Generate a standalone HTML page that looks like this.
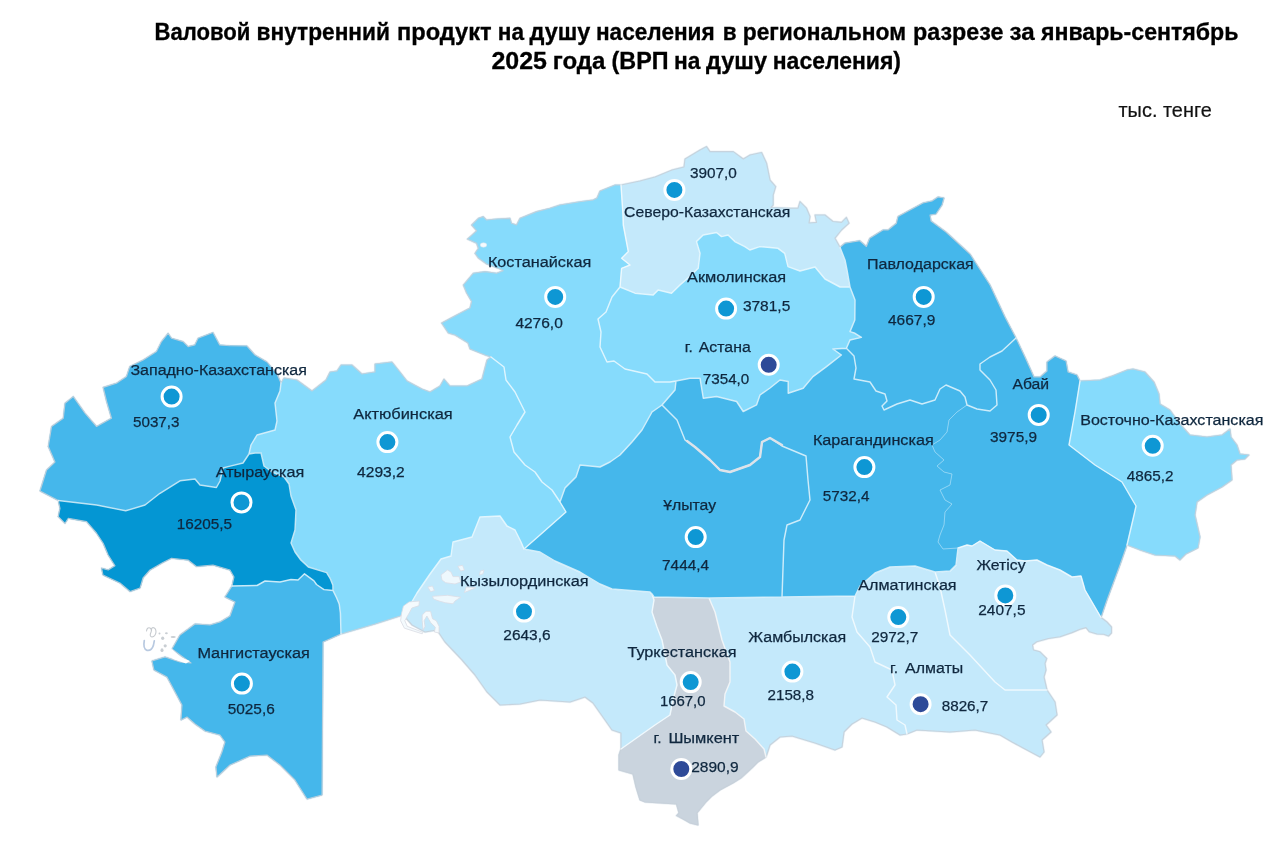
<!DOCTYPE html>
<html lang="ru"><head><meta charset="utf-8"><title>ВРП на душу населения</title>
<style>
html,body{margin:0;padding:0;background:#fff}
body{width:1280px;height:842px;overflow:hidden;font-family:"Liberation Sans",sans-serif}
svg{display:block;will-change:transform}
.t{font-family:"Liberation Sans",sans-serif;font-weight:bold;font-size:23px;fill:#000;stroke:#000;stroke-width:0.3px}
.u{font-family:"Liberation Sans",sans-serif;font-size:20px;fill:#111;stroke:#111;stroke-width:0.2px}
.l{font-family:"Liberation Sans",sans-serif;font-size:15.5px;fill:#0f273e;stroke:#0f273e;stroke-width:0.25px}
.r{stroke:#e9f7fe;stroke-width:1.3;stroke-linejoin:round}
</style></head><body>
<svg width="1280" height="842" viewBox="0 0 1280 842">
<rect width="1280" height="842" fill="#fff"/>
<text class="t" x="154.6" y="40" textLength="95.8" lengthAdjust="spacingAndGlyphs">Валовой</text>
<text class="t" x="256.5" y="40" textLength="133.5" lengthAdjust="spacingAndGlyphs">внутренний</text>
<text class="t" x="397" y="40" textLength="94.6" lengthAdjust="spacingAndGlyphs">продукт</text>
<text class="t" x="497.75" y="40" textLength="26.25" lengthAdjust="spacingAndGlyphs">на</text>
<text class="t" x="529.6" y="40" textLength="60.8" lengthAdjust="spacingAndGlyphs">душу</text>
<text class="t" x="595.9" y="40" textLength="118.85" lengthAdjust="spacingAndGlyphs">населения</text>
<text class="t" x="722.75" y="40" textLength="13.85" lengthAdjust="spacingAndGlyphs">в</text>
<text class="t" x="742.75" y="40" textLength="163.25" lengthAdjust="spacingAndGlyphs">региональном</text>
<text class="t" x="913" y="40" textLength="90.5" lengthAdjust="spacingAndGlyphs">разрезе</text>
<text class="t" x="1009.6" y="40" textLength="25.15" lengthAdjust="spacingAndGlyphs">за</text>
<text class="t" x="1040.9" y="40" textLength="197.6" lengthAdjust="spacingAndGlyphs">январь-сентябрь</text>
<text class="t" x="491.5" y="69.4" textLength="55.5" lengthAdjust="spacingAndGlyphs">2025</text>
<text class="t" x="552.75" y="69.4" textLength="52.65" lengthAdjust="spacingAndGlyphs">года</text>
<text class="t" x="611.5" y="69.4" textLength="57" lengthAdjust="spacingAndGlyphs">(ВРП</text>
<text class="t" x="674" y="69.4" textLength="26.4" lengthAdjust="spacingAndGlyphs">на</text>
<text class="t" x="705.9" y="69.4" textLength="61.1" lengthAdjust="spacingAndGlyphs">душу</text>
<text class="t" x="772.75" y="69.4" textLength="128.25" lengthAdjust="spacingAndGlyphs">населения)</text>
<text class="u" x="1118.5" y="117.2" textLength="93.3" lengthAdjust="spacingAndGlyphs">тыс. тенге</text>

<path d="M491,357 L485,355 L470,349 L468,343 L455,335 L448.3,333 L441.6,323 L456.6,315 L470,308 L471.6,301.5 L466.6,293 L463.3,285 L473.3,273.2 L485,271.6 L496.6,273.2 L503.2,270.7 L500,269 L486.6,264 L478.3,258 L475,253.3 L478.3,248.3 L476.6,243.3 L467.4,239.1 L476.6,230.8 L471.6,225 L478.3,218.3 L483.3,216.6 L486.6,220 L496.6,219 L510,218.3 L511.5,223.3 L516.5,225 L520,218.3 L536.5,211.6 L549.8,208.3 L559.8,205 L579.8,201.7 L593,200 L597,198 L600,191 L615,185 L621,185 L640,181 L655,177 L672,170 L684,167 L685,159 L700,150 L706.6,146.6 L710,151.6 L733.3,151.6 L743.3,159 L750,155 L761.6,152.5 L766.6,163.3 L770,180 L775.7,186.6 L773.2,195 L773.2,205 L771,207.5 L790,208.2 L798,208.2 L800,201.6 L806.5,208.2 L810,216.5 L809,223 L816.5,222.4 L815,215 L825,215 L833,221.5 L841.5,222.4 L846.4,217.4 L849,223.2 L841.5,230 L835,238.2 L840,247.3 L844.8,243.2 L859.8,240.7 L866.4,246.5 L869.7,238.2 L883,230 L888,230 L896.4,223.2 L898,216.5 L910,210 L923,203 L932,201 L938,197 L944,198 L942,205 L936,214 L930,215 L931,221 L946,232 L970,254 L990,285 L1005,317 L1016,338 L1025,357 L1034,377 L1040,377 L1047,371 L1047,362 L1055,356 L1066,361 L1068,372 L1077,375 L1080,381 L1100,380 L1112,376 L1127,370 L1133,369 L1145,372 L1154,382 L1159,394 L1160,404 L1170,410 L1180,424 L1190,435 L1207,437 L1222,435 L1230,429 L1231,437 L1237,445 L1240,454 L1249,455 L1245,459 L1237,460 L1231,465 L1232,480 L1222,487 L1207,495 L1197,502 L1195,515 L1200,537 L1198,548 L1186,554 L1180,560 L1175,556 L1155,555 L1140,550 L1127,545 L1120,565 L1107,600 L1101,617.5 L1107,622 L1111.5,627 L1111.5,633 L1108.6,636 L1103.6,634.3 L1097,634 L1089.4,631.8 L1086,627.6 L1080,629.3 L1072,632.6 L1060,636.8 L1048.4,638.5 L1036.7,641.8 L1032.5,645 L1033.4,650 L1040,651.8 L1046.7,658.5 L1045,663.5 L1046,670 L1044,677 L1047,690 L1055,702 L1057,715 L1046,725 L1051,732 L1042,740 L1044,752 L1040,757 L1025,749 L1012,742 L1000,735 L975,730 L950,732 L917,730 L907,734 L900,735 L887,727 L875,722 L862,718 L852,724 L844,732 L842,747 L835,750 L815,743 L792,736 L780,737 L770,745 L766,757 L758,762 L753,767 L741,778 L733,783 L720,790 L712,796 L706,802 L697,813 L698,825 L690,823 L683,819 L676.5,815.6 L679,813 L676.5,804 L645,802 L640,800 L636,787 L633,774 L619,770 L619,755 L621,749 L621,733 L612,730 L605,720 L593,703 L585,697 L570,702 L540,700 L520,704 L500,705 L487,692 L475,675 L462,660 L445,642 L437,630 L425,632 L412,625 L405,617 L406,612 L400,616 L375,624 L341,634 L323,642 L322,795 L307,799 L295,780 L280,765 L267,755 L250,756 L230,765 L217,777 L216,767 L222,752 L225,742 L220,735 L205,731 L195,724 L187,717 L181,720 L182,705 L174,690 L167,677 L154,670 L152,661 L165,657 L180,662 L191,663 L180,655 L172,649 L180,635 L195,624 L210,625 L220,622 L230,616 L235,602 L225,597 L232,586 L234,577 L230,570 L213,565 L196.4,566.5 L188,560 L171.5,558.2 L163,562.4 L150,570 L143,578 L140,588 L130,591.5 L120,583 L103,575 L101.6,568.2 L108.2,570 L115,565.7 L108.2,555 L103.2,543.2 L96.6,533.2 L86.6,521.6 L68.3,518.3 L65,523.3 L58.3,516.6 L60,508.3 L58.3,500.5 L40,491 L46.6,470 L55,462 L48.3,446.5 L51.6,426.5 L63.3,418.2 L65,403.2 L73.3,396.6 L85,413.2 L96.6,426.5 L111.5,418.2 L106.6,401.5 L103.2,387.4 L116.5,383.2 L126.5,376.6 L129.8,366.6 L143.2,360 L156.5,351.6 L161.5,341.6 L168.1,333.3 L171.5,338.3 L183.1,341.6 L188.1,346.6 L194.8,345 L198.1,338.3 L213,332.5 L219.7,345 L229.7,345.8 L247,346 L255,355 L267,362 L277,374 L281,383 L284,378 L297,380 L312,391 L326,380 L330,372 L337,371 L341,365 L352,365 L362,374 L375,372 L375,364 L392,362 L400,372 L407,381 L422,389 L430,392 L440,386 L444,379 L450,386 L467,386 L482,379 L487,360Z" fill="none" stroke="#edf2f6" stroke-width="2.4" stroke-linejoin="round"/>
<path d="M491,357 L485,355 L470,349 L468,343 L455,335 L448.3,333 L441.6,323 L456.6,315 L470,308 L471.6,301.5 L466.6,293 L463.3,285 L473.3,273.2 L485,271.6 L496.6,273.2 L503.2,270.7 L500,269 L486.6,264 L478.3,258 L475,253.3 L478.3,248.3 L476.6,243.3 L467.4,239.1 L476.6,230.8 L471.6,225 L478.3,218.3 L483.3,216.6 L486.6,220 L496.6,219 L510,218.3 L511.5,223.3 L516.5,225 L520,218.3 L536.5,211.6 L549.8,208.3 L559.8,205 L579.8,201.7 L593,200 L597,198 L600,191 L615,185 L621,185 L623,215 L623.3,225 L628.3,251.6 L621.6,258.3 L630,265 L621.6,268.3 L620,287 L612,297 L606,312 L598,319 L601,332 L600,347 L607,362 L614,361 L625,369 L647,374 L655,382 L670,382 L676,381 L675,390 L662,405 L652,412 L642,430 L632,442 L620,455 L610,462 L600,467 L580,465 L576,477 L565,488 L560,502 L552,490 L542,482 L535,472 L525,465 L514,452 L510,437 L517,425 L525,412 L515,392 L506,380 L504,367Z" fill="#86DBFC" stroke="#86DBFC" stroke-width="0.7" stroke-linejoin="round"/>
<path d="M621,185 L640,181 L655,177 L672,170 L684,167 L685,159 L700,150 L706.6,146.6 L710,151.6 L733.3,151.6 L743.3,159 L750,155 L761.6,152.5 L766.6,163.3 L770,180 L775.7,186.6 L773.2,195 L773.2,205 L771,207.5 L790,208.2 L798,208.2 L800,201.6 L806.5,208.2 L810,216.5 L809,223 L816.5,222.4 L815,215 L825,215 L833,221.5 L841.5,222.4 L846.4,217.4 L849,223.2 L841.5,230 L835,238.2 L840,247.3 L845,260 L847,270 L850,287 L840,287 L825,279 L815,267 L800,271 L788,266.6 L784.7,253.3 L778,248.3 L759.8,246.6 L749.8,250 L744.8,246.6 L734.8,241.6 L728,235 L721.5,236.6 L716.5,232.5 L703.2,235 L696.5,241.6 L700,253.3 L698.2,268.3 L688,278 L680,285 L671.5,293.2 L658.2,290 L653.2,295 L635,293.2 L620,287 L621.6,268.3 L630,265 L621.6,258.3 L628.3,251.6 L623.3,225 L623,215Z" fill="#C4E9FB" stroke="#C4E9FB" stroke-width="0.7" stroke-linejoin="round"/>
<path d="M620,287 L635,293.2 L653.2,295 L658.2,290 L671.5,293.2 L680,285 L688,278 L698.2,268.3 L700,253.3 L696.5,241.6 L703.2,235 L716.5,232.5 L721.5,236.6 L728,235 L734.8,241.6 L744.8,246.6 L749.8,250 L759.8,246.6 L778,248.3 L784.7,253.3 L788,266.6 L800,271 L815,267 L825,279 L840,287 L850,287 L855,300 L854.8,320 L850,331.6 L855,333.3 L861.4,337.4 L850,340 L846.4,348.3 L833,349 L841.4,355 L826.5,366.6 L813,376.6 L803.2,388.2 L788.2,393.2 L788.2,381.5 L780,380 L770,388 L760,395 L756.6,404.8 L743.2,411.5 L736.6,401.5 L716.6,396.5 L703.3,398.2 L700,378.2 L690,378.2 L676,381 L670,382 L655,382 L647,374 L625,369 L614,361 L607,362 L600,347 L601,332 L598,319 L606,312 L612,297Z" fill="#86DBFC" stroke="#86DBFC" stroke-width="0.7" stroke-linejoin="round"/>
<path d="M840,247.3 L844.8,243.2 L859.8,240.7 L866.4,246.5 L869.7,238.2 L883,230 L888,230 L896.4,223.2 L898,216.5 L910,210 L923,203 L932,201 L938,197 L944,198 L942,205 L936,214 L930,215 L931,221 L946,232 L970,254 L990,285 L1005,317 L1016,338 L1002,351 L990,357 L980,364 L980,370 L990,380 L996,390 L997,405 L990,411 L977,409 L967,405 L965,397 L960,391 L946,385 L940,389 L935,400 L922,404 L910,400 L897,404 L884,410 L882,406 L887,401 L885,394 L876,391 L870,382 L854,379 L856,368 L854,356 L846.4,348.3 L850,340 L861.4,337.4 L855,333.3 L850,331.6 L854.8,320 L855,300 L850,287 L847,270 L845,260Z" fill="#45B7EB" stroke="#45B7EB" stroke-width="0.7" stroke-linejoin="round"/>
<path d="M1016,338 L1025,357 L1034,377 L1040,377 L1047,371 L1047,362 L1055,356 L1066,361 L1068,372 L1077,375 L1080,381 L1075,412 L1069,445 L1095,465 L1122,482 L1136,506 L1134,515 L1127,545 L1120,565 L1107,600 L1101,617.5 L1092,602 L1085,590 L1081,576 L1072,577 L1060,570 L1047,565 L1037,560 L1025,561 L1017,560 L1007,551 L995,550 L980,541 L972,546 L967,545 L958,548 L943,549 L938,542 L940,535 L944,525 L945,512 L952,504 L945,500 L940,490 L950,485 L952,474 L944,472 L937,466 L944,460 L935,452 L932,445 L940,440 L947,432 L949,420 L957,412 L967,405 L977,409 L990,411 L997,405 L996,390 L990,380 L980,370 L980,364 L990,357 L1002,351Z" fill="#45B7EB" stroke="#45B7EB" stroke-width="0.7" stroke-linejoin="round"/>
<path d="M1080,381 L1100,380 L1112,376 L1127,370 L1133,369 L1145,372 L1154,382 L1159,394 L1160,404 L1170,410 L1180,424 L1190,435 L1207,437 L1222,435 L1230,429 L1231,437 L1237,445 L1240,454 L1249,455 L1245,459 L1237,460 L1231,465 L1232,480 L1222,487 L1207,495 L1197,502 L1195,515 L1200,537 L1198,548 L1186,554 L1180,560 L1175,556 L1155,555 L1140,550 L1127,545 L1134,515 L1136,506 L1122,482 L1095,465 L1069,445 L1075,412Z" fill="#86DBFC" stroke="#86DBFC" stroke-width="0.7" stroke-linejoin="round"/>
<path d="M958,548 L967,545 L972,546 L980,541 L995,550 L1007,551 L1017,560 L1025,561 L1037,560 L1047,565 L1060,570 L1072,577 L1081,576 L1085,590 L1092,602 L1101,617.5 L1107,622 L1111.5,627 L1111.5,633 L1108.6,636 L1103.6,634.3 L1097,634 L1089.4,631.8 L1086,627.6 L1080,629.3 L1072,632.6 L1060,636.8 L1048.4,638.5 L1036.7,641.8 L1032.5,645 L1033.4,650 L1040,651.8 L1046.7,658.5 L1045,663.5 L1046,670 L1044,677 L1047,690 L1005,690 L995,682 L970,655 L950,635 L945,610 L940,587 L935,572 L950,571 L956,565Z" fill="#C4E9FB" stroke="#C4E9FB" stroke-width="0.7" stroke-linejoin="round"/>
<path d="M855,596 L860,586 L875,573 L890,567 L915,566 L935,572 L940,587 L945,610 L950,635 L970,655 L995,682 L1005,690 L1047,690 L1055,702 L1057,715 L1046,725 L1051,732 L1042,740 L1044,752 L1040,757 L1025,749 L1012,742 L1000,735 L975,730 L950,732 L917,730 L907,734 L905,725 L897,720 L896,705 L887,697 L895,685 L892,670 L875,662 L870,647 L857,632 L852,617Z" fill="#C4E9FB" stroke="#C4E9FB" stroke-width="0.7" stroke-linejoin="round"/>
<path d="M709,598 L782,597 L855,596 L852,617 L857,632 L870,647 L875,662 L892,670 L895,685 L887,697 L896,705 L897,720 L905,725 L907,734 L900,735 L887,727 L875,722 L862,718 L852,724 L844,732 L842,747 L835,750 L815,743 L792,736 L780,737 L770,745 L766,757 L764,749 L755,739 L746,731 L744,719 L735,712 L724,706 L725,694 L730,682 L730,662 L722,640 L715,612Z" fill="#C4E9FB" stroke="#C4E9FB" stroke-width="0.7" stroke-linejoin="round"/>
<path d="M652,594 L654,597 L709,598 L715,612 L722,640 L730,662 L730,682 L725,694 L724,706 L735,712 L744,719 L746,731 L755,739 L764,749 L766,757 L758,762 L753,767 L741,778 L733,783 L720,790 L712,796 L706,802 L697,813 L698,825 L690,823 L683,819 L676.5,815.6 L679,813 L676.5,804 L645,802 L640,800 L636,787 L633,774 L619,770 L619,755 L621,749 L655,725 L670,715 L673,700 L677,685 L675,675 L667,665 L662,640 L657,627 L652,612 L654,600Z" fill="#CAD4DE" stroke="#CAD4DE" stroke-width="0.7" stroke-linejoin="round"/>
<path d="M524,549 L540,552 L555,561 L580,572 L600,584 L612,589 L650,592 L652,594 L654,600 L652,612 L657,627 L662,640 L667,665 L675,675 L677,685 L673,700 L670,715 L655,725 L621,749 L621,733 L612,730 L605,720 L593,703 L585,697 L570,702 L540,700 L520,704 L500,705 L487,692 L475,675 L462,660 L445,642 L437,630 L425,632 L412,625 L405,617 L406,612 L417,593 L430,574 L441,559 L451,556 L453,542 L472,537 L480,517 L500,516 L507,526 L515,530 L521,542Z" fill="#C4E9FB" stroke="#C4E9FB" stroke-width="0.7" stroke-linejoin="round"/>
<path d="M560,502 L565,488 L576,477 L580,465 L600,467 L610,462 L620,455 L632,442 L642,430 L652,412 L662,405 L677,420 L685,440 L695,447 L710,460 L720,470 L730,472 L750,465 L760,457 L762,442 L770,438 L782,446 L806,456 L808,480 L810,500 L800,520 L787,525 L784,540 L782,597 L709,598 L654,597 L652,594 L650,592 L612,589 L600,584 L580,572 L555,561 L540,552 L524,549 L540,535 L566,512Z" fill="#45B7EB" stroke="#45B7EB" stroke-width="0.7" stroke-linejoin="round"/>
<path d="M662,405 L675,390 L676,381 L690,378.2 L700,378.2 L703.3,398.2 L716.6,396.5 L736.6,401.5 L743.2,411.5 L756.6,404.8 L760,395 L770,388 L780,380 L788.2,381.5 L788.2,393.2 L803.2,388.2 L813,376.6 L826.5,366.6 L841.4,355 L833,349 L846.4,348.3 L854,356 L856,368 L854,379 L870,382 L876,391 L885,394 L887,401 L882,406 L884,410 L897,404 L910,400 L922,404 L935,400 L940,389 L946,385 L960,391 L965,397 L967,405 L957,412 L949,420 L947,432 L940,440 L932,445 L935,452 L944,460 L937,466 L944,472 L952,474 L950,485 L940,490 L945,500 L952,504 L945,512 L944,525 L940,535 L938,542 L943,549 L958,548 L956,565 L950,571 L935,572 L915,566 L890,567 L875,573 L860,586 L855,596 L782,597 L784,540 L787,525 L800,520 L810,500 L808,480 L806,456 L782,446 L770,438 L762,442 L760,457 L750,465 L730,472 L720,470 L710,460 L695,447 L685,440 L677,420Z" fill="#45B7EB" stroke="#45B7EB" stroke-width="0.7" stroke-linejoin="round"/>
<path d="M281,383 L284,378 L297,380 L312,391 L326,380 L330,372 L337,371 L341,365 L352,365 L362,374 L375,372 L375,364 L392,362 L400,372 L407,381 L422,389 L430,392 L440,386 L444,379 L450,386 L467,386 L482,379 L487,360 L491,357 L504,367 L506,380 L515,392 L525,412 L517,425 L510,437 L514,452 L525,465 L535,472 L542,482 L552,490 L560,502 L566,512 L540,535 L524,549 L521,542 L515,530 L507,526 L500,516 L480,517 L472,537 L453,542 L451,556 L441,559 L430,574 L417,593 L406,612 L400,616 L375,624 L341,634 L340.4,613 L339.2,604 L336.6,597.7 L333,590.5 L332.9,585.2 L330.4,579 L326.6,572.6 L308.3,567 L300.8,560 L295,552 L291,543 L295,530 L296,510 L291,496 L289,484 L284,477 L272,472 L264,466 L261,453 L255,453 L249,454 L251,445 L257,435 L275,430 L277,421 L275,403 L280,391Z" fill="#86DBFC" stroke="#86DBFC" stroke-width="0.7" stroke-linejoin="round"/>
<path d="M58.3,500.5 L40,491 L46.6,470 L55,462 L48.3,446.5 L51.6,426.5 L63.3,418.2 L65,403.2 L73.3,396.6 L85,413.2 L96.6,426.5 L111.5,418.2 L106.6,401.5 L103.2,387.4 L116.5,383.2 L126.5,376.6 L129.8,366.6 L143.2,360 L156.5,351.6 L161.5,341.6 L168.1,333.3 L171.5,338.3 L183.1,341.6 L188.1,346.6 L194.8,345 L198.1,338.3 L213,332.5 L219.7,345 L229.7,345.8 L247,346 L255,355 L267,362 L277,374 L281,383 L280,391 L275,403 L277,421 L275,430 L257,435 L251,445 L249,454 L243,463 L228,466.6 L223,468 L220,481 L216.4,487.5 L200,485 L195,479 L180,480.8 L160,493.3 L145,505 L125.7,510.8 L96.6,505Z" fill="#45B7EB" stroke="#45B7EB" stroke-width="0.7" stroke-linejoin="round"/>
<path d="M58.3,500.5 L96.6,505 L125.7,510.8 L145,505 L160,493.3 L180,480.8 L195,479 L200,485 L216.4,487.5 L220,481 L223,468 L228,466.6 L243,463 L249,454 L255,453 L261,453 L264,466 L272,472 L284,477 L289,484 L291,496 L296,510 L295,530 L291,543 L295,552 L300.8,560 L308.3,567 L326.6,572.6 L330.4,579 L332.9,585.2 L333,590.5 L324,589.6 L316.5,584.5 L314,580.8 L304.5,573.8 L298,580 L291,579.5 L280,582 L265,581 L257,585.5 L232,586 L234,577 L230,570 L213,565 L196.4,566.5 L188,560 L171.5,558.2 L163,562.4 L150,570 L143,578 L140,588 L130,591.5 L120,583 L103,575 L101.6,568.2 L108.2,570 L115,565.7 L108.2,555 L103.2,543.2 L96.6,533.2 L86.6,521.6 L68.3,518.3 L65,523.3 L58.3,516.6 L60,508.3Z" fill="#0496D3" stroke="#0496D3" stroke-width="0.7" stroke-linejoin="round"/>
<path d="M232,586 L257,585.5 L265,581 L280,582 L291,579.5 L298,580 L304.5,573.8 L314,580.8 L316.5,584.5 L324,589.6 L333,590.5 L336.6,597.7 L339.2,604 L340.4,613 L341,634 L323,642 L322,795 L307,799 L295,780 L280,765 L267,755 L250,756 L230,765 L217,777 L216,767 L222,752 L225,742 L220,735 L205,731 L195,724 L187,717 L181,720 L182,705 L174,690 L167,677 L154,670 L152,661 L165,657 L180,662 L191,663 L180,655 L172,649 L180,635 L195,624 L210,625 L220,622 L230,616 L235,602 L225,597Z" fill="#45B7EB" stroke="#45B7EB" stroke-width="0.7" stroke-linejoin="round"/>
<path d="M491,357 L485,355 L470,349 L468,343 L455,335 L448.3,333 L441.6,323 L456.6,315 L470,308 L471.6,301.5 L466.6,293 L463.3,285 L473.3,273.2 L485,271.6 L496.6,273.2 L503.2,270.7 L500,269 L486.6,264 L478.3,258 L475,253.3 L478.3,248.3 L476.6,243.3 L467.4,239.1 L476.6,230.8 L471.6,225 L478.3,218.3 L483.3,216.6 L486.6,220 L496.6,219 L510,218.3 L511.5,223.3 L516.5,225 L520,218.3 L536.5,211.6 L549.8,208.3 L559.8,205 L579.8,201.7 L593,200 L597,198 L600,191 L615,185 L621,185 L640,181 L655,177 L672,170 L684,167 L685,159 L700,150 L706.6,146.6 L710,151.6 L733.3,151.6 L743.3,159 L750,155 L761.6,152.5 L766.6,163.3 L770,180 L775.7,186.6 L773.2,195 L773.2,205 L771,207.5 L790,208.2 L798,208.2 L800,201.6 L806.5,208.2 L810,216.5 L809,223 L816.5,222.4 L815,215 L825,215 L833,221.5 L841.5,222.4 L846.4,217.4 L849,223.2 L841.5,230 L835,238.2 L840,247.3 L844.8,243.2 L859.8,240.7 L866.4,246.5 L869.7,238.2 L883,230 L888,230 L896.4,223.2 L898,216.5 L910,210 L923,203 L932,201 L938,197 L944,198 L942,205 L936,214 L930,215 L931,221 L946,232 L970,254 L990,285 L1005,317 L1016,338 L1025,357 L1034,377 L1040,377 L1047,371 L1047,362 L1055,356 L1066,361 L1068,372 L1077,375 L1080,381 L1100,380 L1112,376 L1127,370 L1133,369 L1145,372 L1154,382 L1159,394 L1160,404 L1170,410 L1180,424 L1190,435 L1207,437 L1222,435 L1230,429 L1231,437 L1237,445 L1240,454 L1249,455 L1245,459 L1237,460 L1231,465 L1232,480 L1222,487 L1207,495 L1197,502 L1195,515 L1200,537 L1198,548 L1186,554 L1180,560 L1175,556 L1155,555 L1140,550 L1127,545 L1120,565 L1107,600 L1101,617.5 L1107,622 L1111.5,627 L1111.5,633 L1108.6,636 L1103.6,634.3 L1097,634 L1089.4,631.8 L1086,627.6 L1080,629.3 L1072,632.6 L1060,636.8 L1048.4,638.5 L1036.7,641.8 L1032.5,645 L1033.4,650 L1040,651.8 L1046.7,658.5 L1045,663.5 L1046,670 L1044,677 L1047,690 L1055,702 L1057,715 L1046,725 L1051,732 L1042,740 L1044,752 L1040,757 L1025,749 L1012,742 L1000,735 L975,730 L950,732 L917,730 L907,734 L900,735 L887,727 L875,722 L862,718 L852,724 L844,732 L842,747 L835,750 L815,743 L792,736 L780,737 L770,745 L766,757 L758,762 L753,767 L741,778 L733,783 L720,790 L712,796 L706,802 L697,813 L698,825 L690,823 L683,819 L676.5,815.6 L679,813 L676.5,804 L645,802 L640,800 L636,787 L633,774 L619,770 L619,755 L621,749 L621,733 L612,730 L605,720 L593,703 L585,697 L570,702 L540,700 L520,704 L500,705 L487,692 L475,675 L462,660 L445,642 L437,630 L425,632 L412,625 L405,617 L406,612 L400,616 L375,624 L341,634 L323,642 L322,795 L307,799 L295,780 L280,765 L267,755 L250,756 L230,765 L217,777 L216,767 L222,752 L225,742 L220,735 L205,731 L195,724 L187,717 L181,720 L182,705 L174,690 L167,677 L154,670 L152,661 L165,657 L180,662 L191,663 L180,655 L172,649 L180,635 L195,624 L210,625 L220,622 L230,616 L235,602 L225,597 L232,586 L234,577 L230,570 L213,565 L196.4,566.5 L188,560 L171.5,558.2 L163,562.4 L150,570 L143,578 L140,588 L130,591.5 L120,583 L103,575 L101.6,568.2 L108.2,570 L115,565.7 L108.2,555 L103.2,543.2 L96.6,533.2 L86.6,521.6 L68.3,518.3 L65,523.3 L58.3,516.6 L60,508.3 L58.3,500.5 L40,491 L46.6,470 L55,462 L48.3,446.5 L51.6,426.5 L63.3,418.2 L65,403.2 L73.3,396.6 L85,413.2 L96.6,426.5 L111.5,418.2 L106.6,401.5 L103.2,387.4 L116.5,383.2 L126.5,376.6 L129.8,366.6 L143.2,360 L156.5,351.6 L161.5,341.6 L168.1,333.3 L171.5,338.3 L183.1,341.6 L188.1,346.6 L194.8,345 L198.1,338.3 L213,332.5 L219.7,345 L229.7,345.8 L247,346 L255,355 L267,362 L277,374 L281,383 L284,378 L297,380 L312,391 L326,380 L330,372 L337,371 L341,365 L352,365 L362,374 L375,372 L375,364 L392,362 L400,372 L407,381 L422,389 L430,392 L440,386 L444,379 L450,386 L467,386 L482,379 L487,360Z" fill="none" stroke="#c6cfd8" stroke-opacity="0.85" stroke-width="1.15" stroke-linejoin="round"/>
<path d="M621,185 L623,215 L623.3,225 L628.3,251.6 L621.6,258.3 L630,265 L621.6,268.3 L620,287 M620,287 L635,293.2 L653.2,295 L658.2,290 L671.5,293.2 L680,285 L688,278 L698.2,268.3 L700,253.3 L696.5,241.6 L703.2,235 L716.5,232.5 L721.5,236.6 L728,235 L734.8,241.6 L744.8,246.6 L749.8,250 L759.8,246.6 L778,248.3 L784.7,253.3 L788,266.6 L800,271 L815,267 L825,279 L840,287 L850,287 M840,247.3 L845,260 L847,270 L850,287 M850,287 L855,300 L854.8,320 L850,331.6 L855,333.3 L861.4,337.4 L850,340 L846.4,348.3 M620,287 L612,297 L606,312 L598,319 L601,332 L600,347 L607,362 L614,361 L625,369 L647,374 L655,382 L670,382 L676,381 M676,381 L690,378.2 L700,378.2 L703.3,398.2 L716.6,396.5 L736.6,401.5 L743.2,411.5 L756.6,404.8 L760,395 L770,388 L780,380 L788.2,381.5 L788.2,393.2 L803.2,388.2 L813,376.6 L826.5,366.6 L841.4,355 L833,349 L846.4,348.3 M676,381 L675,390 L662,405 M662,405 L652,412 L642,430 L632,442 L620,455 L610,462 L600,467 L580,465 L576,477 L565,488 L560,502 M491,357 L504,367 L506,380 L515,392 L525,412 L517,425 L510,437 L514,452 L525,465 L535,472 L542,482 L552,490 L560,502 M281,383 L280,391 L275,403 L277,421 L275,430 L257,435 L251,445 L249,454 M249,454 L243,463 L228,466.6 L223,468 L220,481 L216.4,487.5 L200,485 L195,479 L180,480.8 L160,493.3 L145,505 L125.7,510.8 L96.6,505 L58.3,500.5 M249,454 L255,453 L261,453 L264,466 L272,472 L284,477 L289,484 L291,496 L296,510 L295,530 L291,543 L295,552 L300.8,560 L308.3,567 L326.6,572.6 L330.4,579 L332.9,585.2 L333,590.5 M232,586 L257,585.5 L265,581 L280,582 L291,579.5 L298,580 L304.5,573.8 L314,580.8 L316.5,584.5 L324,589.6 L333,590.5 M333,590.5 L336.6,597.7 L339.2,604 L340.4,613 L341,634 M406,612 L417,593 L430,574 L441,559 L451,556 L453,542 L472,537 L480,517 L500,516 L507,526 L515,530 L521,542 L524,549 M524,549 L540,535 L566,512 L560,502 M524,549 L540,552 L555,561 L580,572 L600,584 L612,589 L650,592 L652,594 M652,594 L654,597 L709,598 M709,598 L782,597 M662,405 L677,420 L685,440 L695,447 L710,460 L720,470 L730,472 L750,465 L760,457 L762,442 L770,438 L782,446 L806,456 L808,480 L810,500 L800,520 L787,525 L784,540 L782,597 M782,597 L855,596 M855,596 L860,586 L875,573 L890,567 L915,566 L935,572 M935,572 L950,571 L956,565 L958,548 M846.4,348.3 L854,356 L856,368 L854,379 L870,382 L876,391 L885,394 L887,401 L882,406 L884,410 L897,404 L910,400 L922,404 L935,400 L940,389 L946,385 L960,391 L965,397 L967,405 M967,405 L977,409 L990,411 L997,405 L996,390 L990,380 L980,370 L980,364 L990,357 L1002,351 L1016,338 M1080,381 L1075,412 L1069,445 L1095,465 L1122,482 L1136,506 L1134,515 L1127,545 M958,548 L967,545 L972,546 L980,541 L995,550 L1007,551 L1017,560 L1025,561 L1037,560 L1047,565 L1060,570 L1072,577 L1081,576 L1085,590 L1092,602 L1101,617.5 M935,572 L940,587 L945,610 L950,635 L970,655 L995,682 L1005,690 L1047,690 M855,596 L852,617 L857,632 L870,647 L875,662 L892,670 L895,685 L887,697 L896,705 L897,720 L905,725 L907,734 M709,598 L715,612 L722,640 L730,662 L730,682 L725,694 L724,706 L735,712 L744,719 L746,731 L755,739 L764,749 L766,757 M652,594 L654,600 L652,612 L657,627 L662,640 L667,665 L675,675 L677,685 L673,700 L670,715 L655,725 L621,749" fill="none" stroke="#ffffff" stroke-opacity="0.72" stroke-width="1.45" stroke-linejoin="round" stroke-linecap="round"/>
<path d="M967,405 L957,412 L949,420 L947,432 L940,440 L932,445 L935,452 L944,460 L937,466 L944,472 L952,474 L950,485 L940,490 L945,500 L952,504 L945,512 L944,525 L940,535 L938,542 L943,549 L958,548" fill="none" stroke="#c9ebfb" stroke-opacity="0.6" stroke-width="0.9" stroke-linejoin="round"/>
<path d="M687,441 L695,447 L710,460 L720,470 L730,472 L750,465 L760,457 L762,442 L770,438 L782,445" fill="none" stroke="#dde3ea" stroke-width="2.4" stroke-linejoin="round" stroke-linecap="round"/>
<path d="M441,575 L447.5,570 L451,572 L453,576.6 L459,576.6 L460.7,582 L455,584 L445.7,582.7 L442,580Z M427.8,587 L432.5,586 L434.4,590.6 L430.6,591.6Z M432.5,596.3 L447.5,595.3 L460.7,597.2 L455,601 L453,603.8 L445.7,602.8 L439,601 L433.5,599Z M457.8,566.3 L462.5,565.3 L464.4,570 L460.7,571Z M480.4,571 L484,570 L483,573.8 L479.4,575Z M464.4,592.5 L475.7,587.8 L466.3,586.9Z" fill="#eef8fd" stroke="#dcdde6" stroke-width="0.8" stroke-linejoin="round"/>
<path d="M403.4,606.1 L409.1,601.9 L419.4,601 L418.9,605.7 L411.9,608 L409.1,613.2 L404.8,620.7 L407.2,626.3 L423.1,632.4 L422.2,633.8 L404.4,628.2 L400.6,620.7 L401.6,613.2Z M422.2,615 L426,611.3 L430.6,611.3 L432.5,618.8 L436.3,620.7 L439.1,626.3 L439.1,633 L434.4,632 L435.3,627.2 L430.6,622.5 L426.9,616 L424.1,620.7 L425,626.3 L423.1,630 L422.2,620.7Z" fill="#f4fafd" stroke="#d9dce3" stroke-width="0.8" stroke-linejoin="round"/>
<ellipse cx="483.5" cy="245" rx="3.2" ry="2.2" fill="#f4fbff" stroke="#dce6ee" stroke-width="0.6"/>
<path d="M171,648 L180,657 L190,661 L186,663.5 L173,659Z" fill="#ffffff"/>
<path d="M146.5,631 q0.5,-4 3.5,-3 q2.5,1.5 0.5,5.5 q-1,3 1.5,3.5 q3.5,-0.5 4,-5 q0,-4 -3,-4.5 q-2,0.5 -1.5,3" fill="none" stroke="#c6cacf" stroke-width="1.1" stroke-linecap="round"/>
<path d="M144.3,640.5 q-1.5,8 2.5,9.8 q4.5,1 6.5,-4.5 l1,-5" fill="none" stroke="#b8c9e0" stroke-width="1.7" stroke-linecap="round"/>
<g fill="#c9ced3"><ellipse cx="159.5" cy="633.5" rx="1" ry="1"/><ellipse cx="166.4" cy="633.2" rx="1.4" ry="1"/><ellipse cx="162.7" cy="638.3" rx="1.6" ry="1.7"/><ellipse cx="173.2" cy="637" rx="2.6" ry="1.1"/><ellipse cx="165.2" cy="645.8" rx="1.6" ry="1.6"/><ellipse cx="162" cy="650.2" rx="1.5" ry="1.9"/></g>
<!--EXTRA-->
<circle cx="674.4" cy="189.9" r="9.5" fill="#0E97D4" stroke="#fff" stroke-width="3"/>
<circle cx="555.2" cy="296.9" r="9.5" fill="#0E97D4" stroke="#fff" stroke-width="3"/>
<circle cx="726.1" cy="308.6" r="9.5" fill="#0E97D4" stroke="#fff" stroke-width="3"/>
<circle cx="768.7" cy="364.8" r="9.5" fill="#2E4A98" stroke="#fff" stroke-width="3"/>
<circle cx="923.7" cy="296.9" r="9.5" fill="#0E97D4" stroke="#fff" stroke-width="3"/>
<circle cx="171.6" cy="396.6" r="9.5" fill="#0E97D4" stroke="#fff" stroke-width="3"/>
<circle cx="387.4" cy="442.1" r="9.5" fill="#0E97D4" stroke="#fff" stroke-width="3"/>
<circle cx="241.5" cy="502.4" r="9.5" fill="#0E97D4" stroke="#fff" stroke-width="3"/>
<circle cx="241.9" cy="683.6" r="9.5" fill="#0E97D4" stroke="#fff" stroke-width="3"/>
<circle cx="695.7" cy="537.1" r="9.5" fill="#0E97D4" stroke="#fff" stroke-width="3"/>
<circle cx="864.4" cy="467.1" r="9.5" fill="#0E97D4" stroke="#fff" stroke-width="3"/>
<circle cx="1038.7" cy="414.9" r="9.5" fill="#0E97D4" stroke="#fff" stroke-width="3"/>
<circle cx="1152.7" cy="445.8" r="9.5" fill="#0E97D4" stroke="#fff" stroke-width="3"/>
<circle cx="1005.3" cy="595.4" r="9.5" fill="#0E97D4" stroke="#fff" stroke-width="3"/>
<circle cx="898.3" cy="617.1" r="9.5" fill="#0E97D4" stroke="#fff" stroke-width="3"/>
<circle cx="920.6" cy="704.2" r="9.5" fill="#2E4A98" stroke="#fff" stroke-width="3"/>
<circle cx="792.4" cy="671.6" r="9.5" fill="#0E97D4" stroke="#fff" stroke-width="3"/>
<circle cx="690.7" cy="682.1" r="9.5" fill="#0E97D4" stroke="#fff" stroke-width="3"/>
<circle cx="681.3" cy="769" r="9.5" fill="#2E4A98" stroke="#fff" stroke-width="3"/>
<circle cx="524" cy="611.6" r="9.5" fill="#0E97D4" stroke="#fff" stroke-width="3"/>
<text class="l" x="624.1" y="216.6" textLength="166.2" lengthAdjust="spacingAndGlyphs">Северо-Казахстанская</text>
<text class="l" x="689.9" y="178.3" textLength="47" lengthAdjust="spacingAndGlyphs">3907,0</text>
<text class="l" x="487.9" y="267.1" textLength="103.3" lengthAdjust="spacingAndGlyphs">Костанайская</text>
<text class="l" x="515.4" y="327.9" textLength="47.4" lengthAdjust="spacingAndGlyphs">4276,0</text>
<text class="l" x="687.1" y="281.6" textLength="99.1" lengthAdjust="spacingAndGlyphs">Акмолинская</text>
<text class="l" x="742.9" y="311.1" textLength="47.4" lengthAdjust="spacingAndGlyphs">3781,5</text>
<text class="l" x="684.7" y="351.5">г.</text>
<text class="l" x="698.8" y="351.5" textLength="51.9" lengthAdjust="spacingAndGlyphs">Астана</text>
<text class="l" x="702.8" y="383.5" textLength="46.5" lengthAdjust="spacingAndGlyphs">7354,0</text>
<text class="l" x="867.1" y="268.6" textLength="106.6" lengthAdjust="spacingAndGlyphs">Павлодарская</text>
<text class="l" x="888" y="325.4" textLength="47.3" lengthAdjust="spacingAndGlyphs">4667,9</text>
<text class="l" x="130.4" y="374.6" textLength="176.5" lengthAdjust="spacingAndGlyphs">Западно-Казахстанская</text>
<text class="l" x="133" y="426.5" textLength="46.5" lengthAdjust="spacingAndGlyphs">5037,3</text>
<text class="l" x="353.2" y="418.6" textLength="99.5" lengthAdjust="spacingAndGlyphs">Актюбинская</text>
<text class="l" x="357.1" y="476.5" textLength="47.7" lengthAdjust="spacingAndGlyphs">4293,2</text>
<text class="l" x="215.7" y="477" textLength="88.5" lengthAdjust="spacingAndGlyphs">Атырауская</text>
<text class="l" x="176.7" y="529" textLength="55.3" lengthAdjust="spacingAndGlyphs">16205,5</text>
<text class="l" x="197.4" y="658" textLength="112.4" lengthAdjust="spacingAndGlyphs">Мангистауская</text>
<text class="l" x="227.7" y="713.7" textLength="47.1" lengthAdjust="spacingAndGlyphs">5025,6</text>
<text class="l" x="663.2" y="510.3" textLength="52.9" lengthAdjust="spacingAndGlyphs">Ұлытау</text>
<text class="l" x="662.1" y="569.5" textLength="46.9" lengthAdjust="spacingAndGlyphs">7444,4</text>
<text class="l" x="812.9" y="444.6" textLength="120.8" lengthAdjust="spacingAndGlyphs">Карагандинская</text>
<text class="l" x="822.8" y="501" textLength="46.7" lengthAdjust="spacingAndGlyphs">5732,4</text>
<text class="l" x="1012.4" y="389.1" textLength="36.7" lengthAdjust="spacingAndGlyphs">Абай</text>
<text class="l" x="990" y="442.4" textLength="47" lengthAdjust="spacingAndGlyphs">3975,9</text>
<text class="l" x="1080.2" y="424.9" textLength="183.2" lengthAdjust="spacingAndGlyphs">Восточно-Казахстанская</text>
<text class="l" x="1126.7" y="480.7" textLength="46.8" lengthAdjust="spacingAndGlyphs">4865,2</text>
<text class="l" x="976.4" y="570" textLength="49.2" lengthAdjust="spacingAndGlyphs">Жетісу</text>
<text class="l" x="978.2" y="615.4" textLength="47.3" lengthAdjust="spacingAndGlyphs">2407,5</text>
<text class="l" x="858.3" y="589.9" textLength="98.3" lengthAdjust="spacingAndGlyphs">Алматинская</text>
<text class="l" x="871.3" y="642.4" textLength="46.9" lengthAdjust="spacingAndGlyphs">2972,7</text>
<text class="l" x="890.1" y="672.8">г.</text>
<text class="l" x="905.1" y="672.8" textLength="58" lengthAdjust="spacingAndGlyphs">Алматы</text>
<text class="l" x="941.7" y="710.7" textLength="46.6" lengthAdjust="spacingAndGlyphs">8826,7</text>
<text class="l" x="748.3" y="642.1" textLength="97.8" lengthAdjust="spacingAndGlyphs">Жамбылская</text>
<text class="l" x="767.5" y="699.5" textLength="46.5" lengthAdjust="spacingAndGlyphs">2158,8</text>
<text class="l" x="627.4" y="656.6" textLength="109.1" lengthAdjust="spacingAndGlyphs">Туркестанская</text>
<text class="l" x="659.9" y="706.2" textLength="45.7" lengthAdjust="spacingAndGlyphs">1667,0</text>
<text class="l" x="653.5" y="743.3">г.</text>
<text class="l" x="668.4" y="743.3" textLength="70.9" lengthAdjust="spacingAndGlyphs">Шымкент</text>
<text class="l" x="691.2" y="772" textLength="47.4" lengthAdjust="spacingAndGlyphs">2890,9</text>
<text class="l" x="459.9" y="586.3" textLength="128.8" lengthAdjust="spacingAndGlyphs">Кызылординская</text>
<text class="l" x="503.3" y="640.2" textLength="47.3" lengthAdjust="spacingAndGlyphs">2643,6</text>
</svg></body></html>
